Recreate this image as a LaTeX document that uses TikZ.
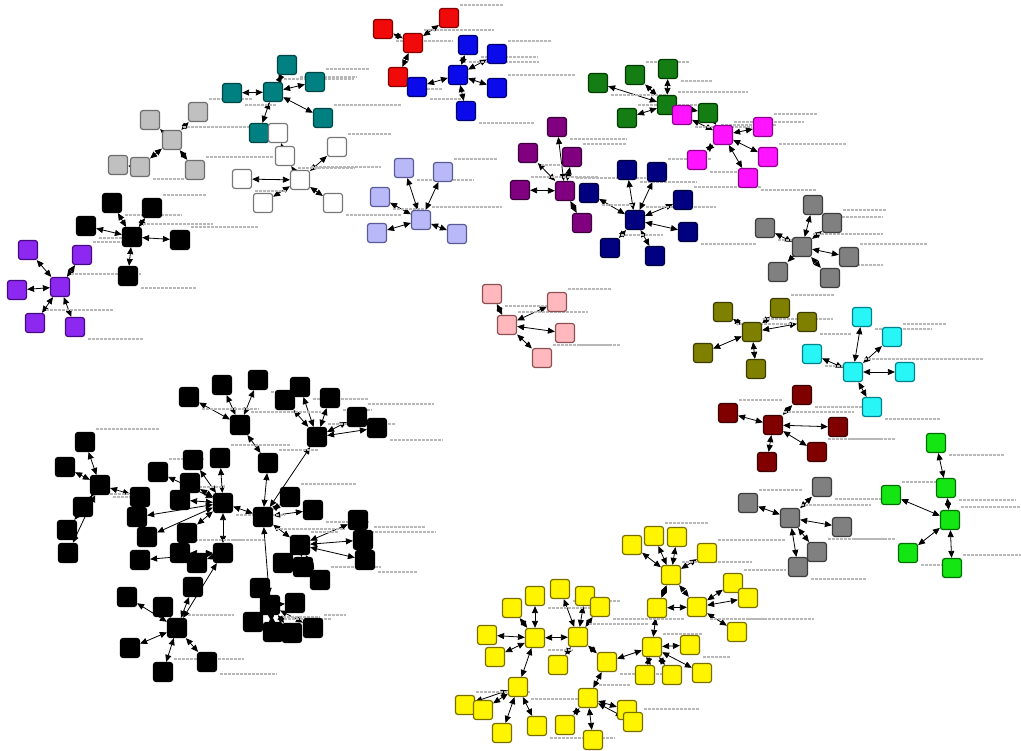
\documentclass[tikz,border=0pt]{standalone}
\usetikzlibrary{arrows.meta}
\pgfdeclarelayer{bg}
\pgfsetlayers{bg,main}
\definecolor{fred}{RGB}{240,10,10}\definecolor{dred}{RGB}{130,0,0}
\definecolor{fblue}{RGB}{10,10,235}\definecolor{dblue}{RGB}{0,0,110}
\definecolor{fteal}{RGB}{0,128,128}\definecolor{dteal}{RGB}{0,70,70}
\definecolor{flgray}{RGB}{192,192,192}\definecolor{dlgray}{RGB}{110,110,110}
\definecolor{fwhite}{RGB}{255,255,255}\definecolor{dwhite}{RGB}{120,120,120}
\definecolor{fblack}{RGB}{0,0,0}\definecolor{dblack}{RGB}{0,0,0}
\definecolor{fviolet}{RGB}{140,40,240}\definecolor{dviolet}{RGB}{70,10,130}
\definecolor{flblue}{RGB}{185,185,250}\definecolor{dlblue}{RGB}{90,90,150}
\definecolor{fgreen}{RGB}{20,125,20}\definecolor{dgreen}{RGB}{0,60,0}
\definecolor{fmag}{RGB}{255,20,255}\definecolor{dmag}{RGB}{140,0,140}
\definecolor{fdpur}{RGB}{128,0,128}\definecolor{ddpur}{RGB}{60,0,60}
\definecolor{fnavy}{RGB}{0,0,128}\definecolor{dnavy}{RGB}{0,0,60}
\definecolor{fgray}{RGB}{128,128,128}\definecolor{dgray}{RGB}{60,60,60}
\definecolor{folive}{RGB}{128,128,0}\definecolor{dolive}{RGB}{60,60,0}
\definecolor{fcyan}{RGB}{40,245,245}\definecolor{dcyan}{RGB}{0,130,140}
\definecolor{fmaroon}{RGB}{128,0,0}\definecolor{dmaroon}{RGB}{60,0,0}
\definecolor{fbgreen}{RGB}{20,230,20}\definecolor{dbgreen}{RGB}{0,110,0}
\definecolor{fpink}{RGB}{255,185,190}\definecolor{dpink}{RGB}{140,80,80}
\definecolor{fyellow}{RGB}{255,245,0}\definecolor{dyellow}{RGB}{120,110,0}
\tikzset{
  sq/.style={draw, rectangle, rounded corners=2.5pt, minimum size=19pt, inner sep=0pt, line width=1.2pt},
  e/.style={line width=0.8pt, {Triangle[length=7pt,width=6pt]}-{Triangle[length=7pt,width=6pt]}},
  lbl/.style={black!28, line width=1.5pt, dash pattern=on 3pt off 1pt},
}
% #1 name, #2 colour key, #3 list x/y (first = hub)
\newcommand\clu[3]{\foreach \px/\py [count=\i] in {#3} {\node[sq, fill=f#2, draw=d#2] (#1\i) at (\px,\py) {};}}
\newcommand\spk[3]{\begin{pgfonlayer}{bg}\foreach \j in {#3} {\draw[e] (#1#2) -- (#1\j);}\end{pgfonlayer}}
\newcommand\lbs[2]{\begin{pgfonlayer}{bg}\foreach \j in {#2}{\pgfmathtruncatemacro\w{22+mod(\j*37+11,50)}\ifodd\j \draw[lbl] ([xshift=1pt,yshift=3pt]#1\j.north east) -- ++(\w,0);\else \draw[lbl] ([xshift=3pt,yshift=-2pt]#1\j.south east) -- ++(\w,0);\fi}\end{pgfonlayer}}
\begin{document}
\begin{tikzpicture}[x=1pt,y=-1pt]
\begin{pgfonlayer}{bg}
\fill[white] (0,0) rectangle (1021,751);
\end{pgfonlayer}
\useasboundingbox (0,0) rectangle (1021,751);
% red
\clu{red}{red}{413/43, 383/29, 449/18, 398/77}
\spk{red}{1}{2,3,4} \lbs{red}{1,2,3,4}
% blue
\clu{blu}{blue}{458/75, 468/45, 497/54, 417/87, 497/88, 466/111}
\spk{blu}{1}{2,3,4,5,6} \lbs{blu}{1,2,3,4,5,6}
% teal
\clu{tea}{teal}{273/92, 287/65, 315/82, 232/93, 323/118, 259/133}
\spk{tea}{1}{2,3,4,5,6} \lbs{tea}{1,2,3,4,5}
% white
\clu{wht}{white}{300/180, 285/156, 337/147, 242/179, 263/203, 333/203, 278/133}
\spk{wht}{1}{2,3,4,5,6} \spk{wht}{2}{7} \lbs{wht}{1,2,3,4,6}
% light gray
\clu{lgr}{lgray}{172/140, 150/120, 198/112, 140/167, 195/170, 118/165}
\spk{lgr}{1}{2,3,4,5} \spk{lgr}{4}{6} \lbs{lgr}{1,3,4,5}
% small black
\clu{sbk}{black}{132/237, 112/203, 152/208, 86/226, 180/240, 128/276}
\spk{sbk}{1}{2,3,4,5,6} \lbs{sbk}{1,2,3,4,5,6}
% violet
\clu{vio}{violet}{60/287, 28/250, 82/255, 17/290, 35/323, 75/327}
\spk{vio}{1}{2,3,4,5,6} \lbs{vio}{1,3,5,6}
% light blue
\clu{lbl}{lblue}{421/220, 404/168, 443/172, 380/197, 377/233, 457/234}
\spk{lbl}{1}{2,3,4,5,6} \lbs{lbl}{1,2,3,4}
% green
\clu{grn}{green}{667/105, 598/83, 635/75, 668/69, 627/118, 708/113}
\spk{grn}{1}{2,3,4,5,6} \lbs{grn}{1,2,3,4,5,6}
% magenta
\clu{mag}{mag}{723/135, 682/115, 763/127, 697/160, 768/157, 748/178}
\spk{mag}{1}{2,3,4,5,6} \lbs{mag}{1,2,3,4,5,6}
\begin{pgfonlayer}{bg}\draw[e] (grn6) -- (mag1);\end{pgfonlayer}
% dark purple
\clu{dpu}{dpur}{565/191, 557/127, 572/157, 528/153, 520/190, 582/223}
\spk{dpu}{1}{2,3,4,5,6} \lbs{dpu}{1,2,3,4,5}
% navy
\clu{nav}{navy}{635/220, 627/170, 657/172, 589/193, 683/200, 688/232, 610/248, 655/256}
\spk{nav}{1}{2,3,4,5,6,7,8} \lbs{nav}{1,2,3,4,5,6,7}
% gray right
\clu{gry}{gray}{802/247, 813/205, 832/223, 765/228, 849/257, 778/272, 830/278}
\spk{gry}{1}{2,3,4,5,6,7} \lbs{gry}{1,2,3,4,5,7}
% olive
\clu{olv}{olive}{752/332, 723/312, 780/308, 807/322, 703/353, 756/369}
\spk{olv}{1}{2,3,4,5,6} \lbs{olv}{1,2,3,4}
% cyan
\clu{cya}{cyan}{853/372, 862/317, 892/337, 812/354, 905/372, 872/407}
\spk{cya}{1}{2,3,4,5,6} \lbs{cya}{1,2,3,4,5,6}
% maroon
\clu{mar}{maroon}{773/425, 802/395, 728/413, 838/427, 817/452, 767/462}
\spk{mar}{1}{2,3,4,5,6} \lbs{mar}{1,2,3,4,5}
% gray bottom
\clu{grb}{gray}{790/518, 822/487, 748/503, 842/527, 817/552, 798/567}
\spk{grb}{1}{2,3,4,5,6} \lbs{grb}{1,2,3,4,5,6}
% bright green
\clu{bgr}{bgreen}{950/520, 946/488, 891/495, 908/553, 952/568, 936/443}
\spk{bgr}{1}{2,3,4,5} \spk{bgr}{2}{6} \lbs{bgr}{1,2,3,4,5,6}
% pink
\clu{pnk}{pink}{507/325, 492/294, 557/302, 565/333, 542/358}
\spk{pnk}{1}{2,3,4,5} \lbs{pnk}{1,2,3,4,5}
% yellow
\clu{yel}{yellow}{671/575, 632/545, 654/536, 677/537, 707/553, 697/607, 733/583, 748/598, 737/632, 657/608, 652/647, 690/645, 645/675, 672/675, 702/673, 535/638, 512/608, 535/596, 487/635, 495/657, 578/637, 560/589, 585/596, 600/607, 558/665, 607/662, 588/698, 627/710, 633/722, 565/725, 593/740, 518/687, 465/705, 483/710, 502/733, 537/726}
\spk{yel}{1}{2,3,4,5,10,6}
\spk{yel}{6}{7,8,9,10}
\spk{yel}{11}{10,12,13,14,15,26}
\spk{yel}{16}{17,18,19,20,21,32}
\spk{yel}{21}{22,23,24,25,26}
\spk{yel}{26}{27}
\spk{yel}{27}{28,29,30,31}
\spk{yel}{32}{33,34,35,36}
\lbs{yel}{1,3,5,6,7,9,11,12,16,18,21,22,24,26,27,29,32,33,36}
% big black
\clu{bbk}{black}{240/425, 189/397, 222/385, 258/380, 317/437, 300/387, 285/400, 330/398, 357/417, 377/428, 268/463, 100/485, 85/442, 65/467, 83/507, 67/530, 68/553, 223/503, 158/472, 193/460, 220/458, 190/483, 180/500, 140/497, 137/517, 147/537, 187/533, 263/517, 290/497, 313/510, 223/553, 140/560, 180/553, 197/563, 300/545, 358/520, 363/540, 365/560, 283/563, 303/567, 320/580, 270/605, 260/588, 253/622, 273/632, 292/633, 313/628, 295/603, 177/628, 130/648, 163/672, 207/662, 127/597, 163/607, 193/587}
\spk{bbk}{1}{2,3,4,11}
\spk{bbk}{5}{6,7,8,9,10,28}
\spk{bbk}{12}{13,14,15,16,17,24}
\spk{bbk}{18}{19,20,21,22,23,25,26,27,28,31}
\spk{bbk}{28}{11,29,30,35,42}
\spk{bbk}{31}{32,33,34,49}
\spk{bbk}{35}{36,37,38,39,40,41}
\spk{bbk}{42}{43,44,45,46,47,48}
\spk{bbk}{49}{50,51,52,53,54,55}
\lbs{bbk}{1,2,4,5,6,8,9,10,11,12,13,15,18,19,21,23,28,29,30,31,33,35,36,37,38,41,42,45,47,49,51,52}
\end{tikzpicture}
\end{document}
